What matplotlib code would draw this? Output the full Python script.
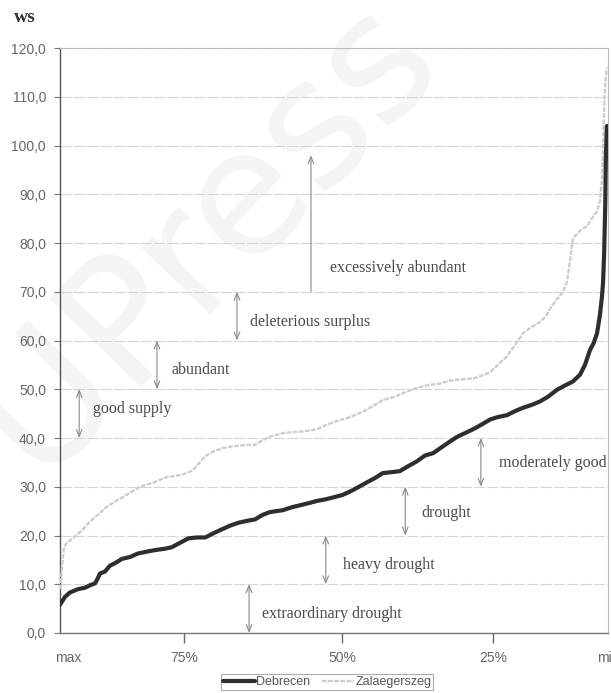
import matplotlib
matplotlib.use("Agg")
import matplotlib.pyplot as plt
from matplotlib.ticker import FuncFormatter

# ---------------- data ----------------
deb_pos = [0, 0.9, 1.8, 3.3, 4.6, 5.5, 6.4, 6.8, 7.3, 8.2, 9.1, 10.0, 11.3, 12.8, 14.2, 15.9,
           17.3, 19.2, 20.4, 21.9, 23.4, 25.0, 26.5, 27.9, 29.6, 31.0, 32.5, 34.1, 35.6, 36.9,
           38.3, 40.7, 42.3, 43.8, 45.6, 46.9, 48.4, 49.8, 51.5, 52.9, 54.4, 56.0, 57.5, 58.9,
           60.6, 62.0, 63.5, 65.1, 66.6, 68.1, 69.5, 71.2, 72.4, 73.9, 75.4, 77.0, 78.5, 79.9,
           81.6, 83.0, 84.5, 86.1, 87.6, 89.1, 90.7, 92.2, 93.6, 94.9, 95.8, 96.7, 97.4, 98.0,
           98.5, 98.9, 99.1, 99.3, 99.5, 99.6, 99.8]
deb_ws = [5.8, 7.4, 8.3, 9.0, 9.3, 9.8, 10.2, 11.0, 12.2, 12.6, 13.8, 14.3, 15.2, 15.6, 16.3, 16.7,
          17.0, 17.3, 17.6, 18.5, 19.4, 19.6, 19.6, 20.4, 21.3, 22.0, 22.6, 23.0, 23.3, 24.2,
          24.8, 25.2, 25.8, 26.2, 26.7, 27.1, 27.4, 27.8, 28.3, 29.0, 29.9, 30.9, 31.8, 32.8,
          33.0, 33.2, 34.2, 35.2, 36.4, 36.9, 38.0, 39.3, 40.2, 41.0, 41.8, 42.8, 43.8, 44.3,
          44.7, 45.5, 46.2, 46.8, 47.5, 48.5, 49.9, 50.8, 51.6, 53.0, 55.0, 58.0, 59.5, 61.5,
          65.0, 69.0, 72.0, 78.0, 88.0, 97.0, 104.0]

zal_pos = [0, 0.2, 0.4, 0.7, 1.3, 2.2, 3.1, 4.0, 4.9, 6.0, 7.3, 8.2, 9.1, 10.4, 11.5, 13.1,
           14.6, 15.9, 17.0, 18.2, 19.5, 21.0, 22.4, 24.3, 25.5, 26.5, 27.9, 29.6, 31.0, 32.5,
           34.1, 35.6, 36.9, 38.3, 40.7, 42.3, 43.8, 45.4, 46.9, 48.4, 49.8, 51.5, 52.9, 54.4,
           56.0, 57.5, 58.9, 60.6, 62.0, 63.5, 65.1, 66.6, 68.1, 69.5, 71.2, 73.0, 75.4, 77.0,
           78.5, 79.9, 81.6, 83.0, 84.5, 86.1, 87.6, 88.7, 89.4, 90.7, 91.8, 92.5, 93.1, 93.6,
           94.9, 96.2, 97.3, 98.0, 98.5, 98.9, 99.1, 99.3, 99.5, 99.8]
zal_ws = [9.0, 11.0, 14.0, 17.5, 18.6, 19.3, 20.2, 21.0, 22.2, 23.4, 24.6, 25.6, 26.3, 27.2, 27.9, 29.0,
          30.0, 30.5, 30.8, 31.4, 32.0, 32.2, 32.5, 33.4, 35.0, 36.3, 37.2, 37.9, 38.2, 38.4,
          38.6, 38.6, 39.5, 40.3, 41.0, 41.2, 41.3, 41.5, 41.8, 42.6, 43.2, 43.8, 44.3, 45.0,
          45.8, 46.8, 47.8, 48.3, 48.9, 49.6, 50.3, 50.7, 51.0, 51.2, 51.8, 52.0, 52.2, 52.8,
          53.5, 55.0, 56.8, 59.0, 61.5, 62.8, 63.8, 65.0, 66.5, 68.5, 70.0, 72.0, 76.5, 81.0,
          82.5, 83.5, 85.5, 86.5, 88.5, 93.0, 100.0, 108.0, 113.0, 116.0]

xtick_pos = [1.5, 22.6, 51.5, 79.0, 100.0]
xtick_labels = ["max", "75%", "50%", "25%", "min"]

# class annotations
classes = ["extraordinary drought", "heavy drought", "drought", "moderately good",
           "good supply", "abundant", "deleterious surplus", "excessively abundant"]
arrow_x = [34.5, 48.5, 63.0, 76.8, 3.5, 17.7, 32.3, 45.8]
low = [0, 10, 20, 30, 40, 50, 60, 70]
high = [10, 20, 30, 40, 50, 60, 70, 98]
text_x = [36.9, 51.6, 65.9, 80.1, 6.0, 20.4, 34.7, 49.3]
text_y = [3.9, 13.9, 24.6, 34.9, 45.9, 53.9, 63.8, 74.9]

# ---------------- figure ----------------
fig = plt.figure(figsize=(6.11, 6.93), dpi=100)
ax = fig.add_axes([60 / 611, 1 - 633 / 693, 548 / 611, 585 / 693])
ax.patch.set_visible(False)

# faint watermark, drawn behind the whole chart
fig.text(205 / 611, 1 - 235 / 693, "UPress", fontsize=125, rotation=46, color="#f5f5f5",
         ha="center", va="center", zorder=-5)

ax.set_xlim(0, 100)
ax.set_ylim(0, 120)
ax.set_yticks(range(0, 121, 10))
ax.yaxis.set_major_formatter(FuncFormatter(lambda v, p: f"{v:.1f}".replace(".", ",")))
ax.grid(axis="y", color="#d4d4d4", lw=0.8, ls=(0, (10, 2)))
ax.set_axisbelow(True)

ax.plot(zal_pos, zal_ws, color="#cdcdcd", lw=1.7, ls=(0, (2, 0.6)), label="Zalaegerszeg", zorder=3)
ax.plot(deb_pos, deb_ws, color="#2e2e2e", lw=3.0, label="Debrecen", zorder=4,
        solid_joinstyle="round", solid_capstyle="round")

ax.set_xticks(xtick_pos)
ax.set_xticklabels(xtick_labels)
ticks = ax.xaxis.get_major_ticks()
ticks[0].tick1line.set_visible(False)
ticks[-1].tick1line.set_visible(False)

ax.tick_params(axis="x", direction="out", length=7, width=1, color="#666666",
               labelsize=10, labelcolor="#666666", pad=6)
ax.tick_params(axis="y", direction="out", length=4, width=0.8, color="#777777",
               labelsize=10, labelcolor="#666666", pad=6)
for lab in ax.get_xticklabels() + ax.get_yticklabels():
    lab.set_family("Liberation Sans")

ax.spines["left"].set_color("#555555")
ax.spines["left"].set_linewidth(1.0)
ax.spines["bottom"].set_color("#777777")
ax.spines["bottom"].set_linewidth(1.0)
for s in ("top", "right"):
    ax.spines[s].set_color("#bbbbbb")
    ax.spines[s].set_linewidth(0.8)

for lab, ax_x, lo, hi, tx, ty in zip(classes, arrow_x, low, high, text_x, text_y):
    style = "<->" if lab != "excessively abundant" else "->"
    ax.annotate("", xy=(ax_x, hi), xytext=(ax_x, lo),
                arrowprops=dict(arrowstyle=style + ",head_length=0.5,head_width=0.2",
                                color="#8a8a8a", lw=0.8, shrinkA=0, shrinkB=0), zorder=5)
    ax.text(tx, ty, lab, family="Liberation Serif", fontsize=11.5, color="#4a4a4a",
            va="center", ha="left", zorder=6)

fig.text(14 / 611, 1 - 18 / 693, "ws", family="Liberation Serif", fontweight="bold",
         fontsize=14, color="#333333", va="center", ha="left")

h, l = ax.get_legend_handles_labels()
leg = fig.legend(h[::-1], l[::-1], loc="center", bbox_to_anchor=(327 / 611, 1 - 682 / 693),
                 ncol=2, frameon=True, fancybox=False, edgecolor="#999999",
                 prop={"family": "Liberation Sans", "size": 9}, handlelength=2.6,
                 handletextpad=0.1, columnspacing=0.9, borderpad=0.15, borderaxespad=0)
leg.get_frame().set_linewidth(0.8)
for t in leg.get_texts():
    t.set_color("#555555")

fig.savefig("out.png", dpi=100)
